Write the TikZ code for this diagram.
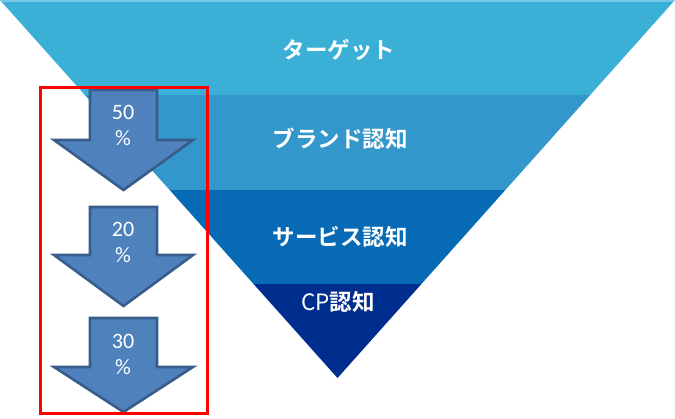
\documentclass[tikz,border=0pt]{standalone}
\usepackage{fontspec}
\setmainfont{Carlito}
\newfontfamily\jpbold{Noto Sans CJK JP Bold}
\newfontfamily\jpreg{Noto Sans CJK JP}
\definecolor{bandA}{HTML}{3AB0D7}
\definecolor{bandB}{HTML}{3497CB}
\definecolor{bandC}{HTML}{066AB4}
\definecolor{bandD}{HTML}{002E8E}
\definecolor{arrfill}{HTML}{4F81BD}
\definecolor{arrdraw}{HTML}{385D8A}
\tikzset{
  flabel/.style={text=white, font=\jpbold\fontsize{22.5}{24}\selectfont, inner sep=0pt},
  pct/.style={text=white, font=\fontsize{22}{26}\selectfont, align=center, inner sep=0pt},
  downarrow/.style={fill=arrfill, draw=arrdraw, line width=2.6pt, line join=miter},
}
\begin{document}
\begin{tikzpicture}[x=1pt,y=-1pt]
\useasboundingbox (0,0) rectangle (675,418);
\begin{scope}
  \clip (0,0) -- (675,0) -- (337.5,378) -- cycle;
  \fill[bandA] (0,0) rectangle (675,95);
  \fill[bandB] (0,95) rectangle (675,190);
  \fill[bandC] (0,190) rectangle (675,284);
  \fill[bandD] (0,284) rectangle (675,378);
  \draw[white!30!bandA, line width=1.5pt] (0,0.75) -- (675,0.75);
\end{scope}
\node[flabel] (t1) at (339,50) {ターゲット};
\node[flabel] (t2) at (340,139) {ブランド認知};
\node[flabel] (t3) at (340,237) {サービス認知};
\node[flabel] (t4) at (338,302) {{\jpreg CP}認知};
% arrows
\draw[downarrow] (90,90) -- (157,90) -- (157,140) -- (193,140) -- (123.5,190) -- (54,140) -- (90,140) -- cycle;
\draw[downarrow] (90,207) -- (157,207) -- (157,255) -- (193,255) -- (123.5,306) -- (54,255) -- (90,255) -- cycle;
\draw[downarrow] (90,318) -- (157,318) -- (157,367) -- (193,367) -- (123.5,412) -- (54,367) -- (90,367) -- cycle;
\node[pct] (p1) at (123,125) {50\\\%};
\node[pct] (p2) at (123,242) {20\\\%};
\node[pct] (p3) at (123,354) {30\\\%};
\draw[red, line width=3pt] (40,87) rectangle (207,413);
\end{tikzpicture}
\end{document}
